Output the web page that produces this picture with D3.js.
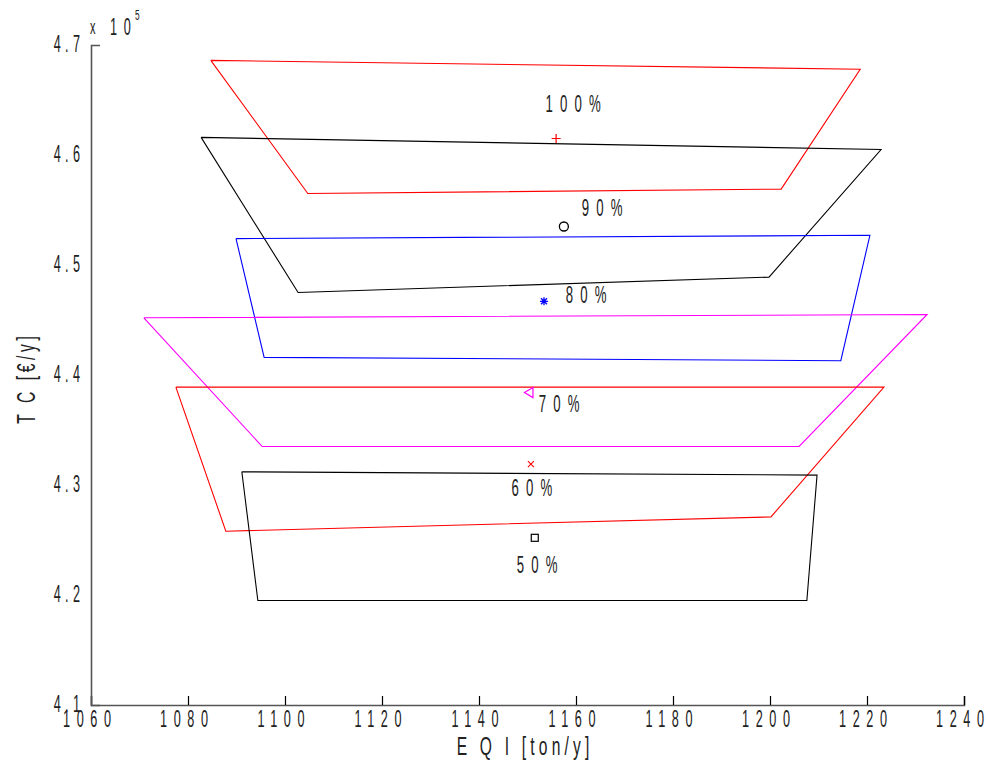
<!DOCTYPE html>
<html>
<head>
<meta charset="utf-8">
<script src="https://cdn.jsdelivr.net/npm/d3@7"></script>
<style>
  html, body { margin: 0; padding: 0; background: #fff; }
  svg { display: block; }
  text { font-family: "Liberation Sans", Arial, sans-serif; fill: #222; }
</style>
</head>
<body>
<svg id="chart" width="988" height="767"></svg>
<script>
// ---- data ----
const xTicks = [1060, 1080, 1100, 1120, 1140, 1160, 1180, 1200, 1220, 1240];
const yTicks = [4.1, 4.2, 4.3, 4.4, 4.5, 4.6, 4.7];
const yTickLabels = ["4.1", "4.2", "4.3", "4.4", "4.5", "4.6", "4.7"];
const seriesNames = ["100%", "90%", "80%", "70%", "60%", "50%"];
const seriesColors = ["#ff0000", "#000000", "#0000ff", "#ff00ff", "#ff0000", "#000000"];
const seriesMarkers = ["plus", "circle", "star", "triangleLeft", "cross", "square"];
// polygon vertices (EQI, TC): top-left, top-right, bottom-right, bottom-left
const poly100 = [[1084.7, 468600], [1218.6, 467800], [1202.3, 456900], [1104.7, 456500]];
const poly90  = [[1082.7, 461600], [1222.9, 460500], [1199.8, 448900], [1102.7, 447500]];
const poly80  = [[1089.9, 452400], [1220.6, 452700], [1214.6, 441300], [1095.7, 441600]];
const poly70  = [[1070.9, 445200], [1232.4, 445500], [1206.0, 433500], [1095.3, 433500]];
const poly60  = [[1077.5, 438900], [1223.5, 438900], [1200.2, 427100], [1087.8, 425800]];
const poly50  = [[1091.1, 431200], [1209.7, 430900], [1207.6, 419500], [1094.4, 419500]];
const polygons = [poly100, poly90, poly80, poly70, poly60, poly50];
// centre points (EQI, TC)
const centerX = [1155.9, 1157.5, 1153.4, 1150.3, 1150.7, 1151.5];
const centerY = [461500, 453500, 446700, 438400, 431900, 425200];
// label anchor positions (EQI, TC)
const labelX = [1159.4, 1165.4, 1162.1, 1156.5, 1150.9, 1152.0];
const labelY = [464700, 455200, 447300, 437400, 429800, 422800];

// ---- layout ----
const svg = d3.select("#chart");
const x = d3.scaleLinear().domain([1060, 1240]).range([91, 964]);
const y = d3.scaleLinear().domain([410000, 470000]).range([705, 45]);

// condensed, letter-spaced text helper
function ctext(px, py, str, opt) {
  const o = Object.assign({ size: 23, anchor: "middle", ls: 12, sx: 0.55, rot: 0 }, opt || {});
  const g = svg.append("g").attr("transform", `translate(${px},${py}) rotate(${o.rot}) scale(${o.sx},1)`);
  let dx = 0;
  if (o.anchor === "middle") dx = o.ls / 2;
  if (o.anchor === "end") dx = o.ls;
  g.append("text")
    .attr("x", dx).attr("y", 0)
    .attr("text-anchor", o.anchor)
    .attr("dominant-baseline", "central")
    .attr("font-size", o.size)
    .style("letter-spacing", o.ls + "px")
    .text(str);
  return g;
}

// polygons
const line = d3.line().x(d => x(d[0])).y(d => y(d[1]));
polygons.forEach((p, i) => {
  svg.append("path")
    .attr("d", line(p.concat([p[0]])))
    .attr("fill", "none")
    .attr("stroke", seriesColors[i])
    .attr("stroke-width", 1.1);
});

// markers
function drawMarker(g, type, cx, cy, color) {
  const s = 4.5;
  if (type === "plus") {
    g.append("path").attr("d", `M${cx - s},${cy}H${cx + s}M${cx},${cy - s}V${cy + s}`).attr("stroke", color).attr("stroke-width", 1.2).attr("fill", "none");
  } else if (type === "circle") {
    g.append("circle").attr("cx", cx).attr("cy", cy).attr("r", 4.5).attr("stroke", color).attr("stroke-width", 1.3).attr("fill", "none");
  } else if (type === "star") {
    const r = 4;
    let d = `M${cx - r},${cy}H${cx + r}M${cx},${cy - r}V${cy + r}`;
    d += `M${cx - r * 0.75},${cy - r * 0.75}L${cx + r * 0.75},${cy + r * 0.75}M${cx - r * 0.75},${cy + r * 0.75}L${cx + r * 0.75},${cy - r * 0.75}`;
    g.append("path").attr("d", d).attr("stroke", color).attr("stroke-width", 1.3).attr("fill", "none");
  } else if (type === "triangleLeft") {
    g.append("path").attr("d", `M${cx - 4.5},${cy}L${cx + 4},${cy - 5}L${cx + 4},${cy + 5}Z`).attr("stroke", color).attr("stroke-width", 1.2).attr("fill", "none");
  } else if (type === "cross") {
    const r = 3;
    g.append("path").attr("d", `M${cx - r},${cy - r}L${cx + r},${cy + r}M${cx - r},${cy + r}L${cx + r},${cy - r}`).attr("stroke", color).attr("stroke-width", 1.1).attr("fill", "none");
  } else if (type === "square") {
    g.append("rect").attr("x", cx - 3.5).attr("y", cy - 3.5).attr("width", 7).attr("height", 7).attr("stroke", color).attr("stroke-width", 1.2).attr("fill", "none");
  }
}
const mg = svg.append("g");
seriesNames.forEach((n, i) => drawMarker(mg, seriesMarkers[i], x(centerX[i]), y(centerY[i]), seriesColors[i]));

// labels
seriesNames.forEach((n, i) => {
  ctext(x(labelX[i]), y(labelY[i]), n, { size: 24, ls: 13 });
});

// axes
const xAxis = svg.append("g").attr("transform", "translate(0,705)")
  .call(d3.axisTop(x).tickValues(xTicks).tickSize(9).tickFormat(""));
const yAxis = svg.append("g").attr("transform", "translate(91,0)")
  .call(d3.axisRight(y).tickValues(yTicks).tickSize(9).tickFormat(""));
[xAxis, yAxis].forEach(a => {
  a.select(".domain").attr("stroke", "#555").attr("stroke-width", 1.6);
  a.selectAll(".tick line").attr("stroke", "#000").attr("stroke-width", 1.2);
});

// tick labels
xTicks.forEach(v => {
  ctext(x(v) - 4, 719, String(v), { size: 23, ls: 12 });
});
yTicks.forEach((v, i) => {
  ctext(80, y(v * 1e5) - 1, yTickLabels[i], { size: 23, ls: 8, anchor: "end" });
});

// exponent
ctext(90, 27, "x", { size: 20, ls: 0, anchor: "start" });
ctext(110, 27, "10", { size: 23, ls: 12, anchor: "start" });
ctext(135, 15, "5", { size: 15, ls: 0, anchor: "start" });

// axis titles
ctext(523, 747, "E Q I [ton/y]", { size: 26, ls: 7, sx: 0.6 });
ctext(27, 380, "T C [€/y]", { size: 26, ls: 6, sx: 0.6, rot: -90 });
</script>
</body>
</html>
